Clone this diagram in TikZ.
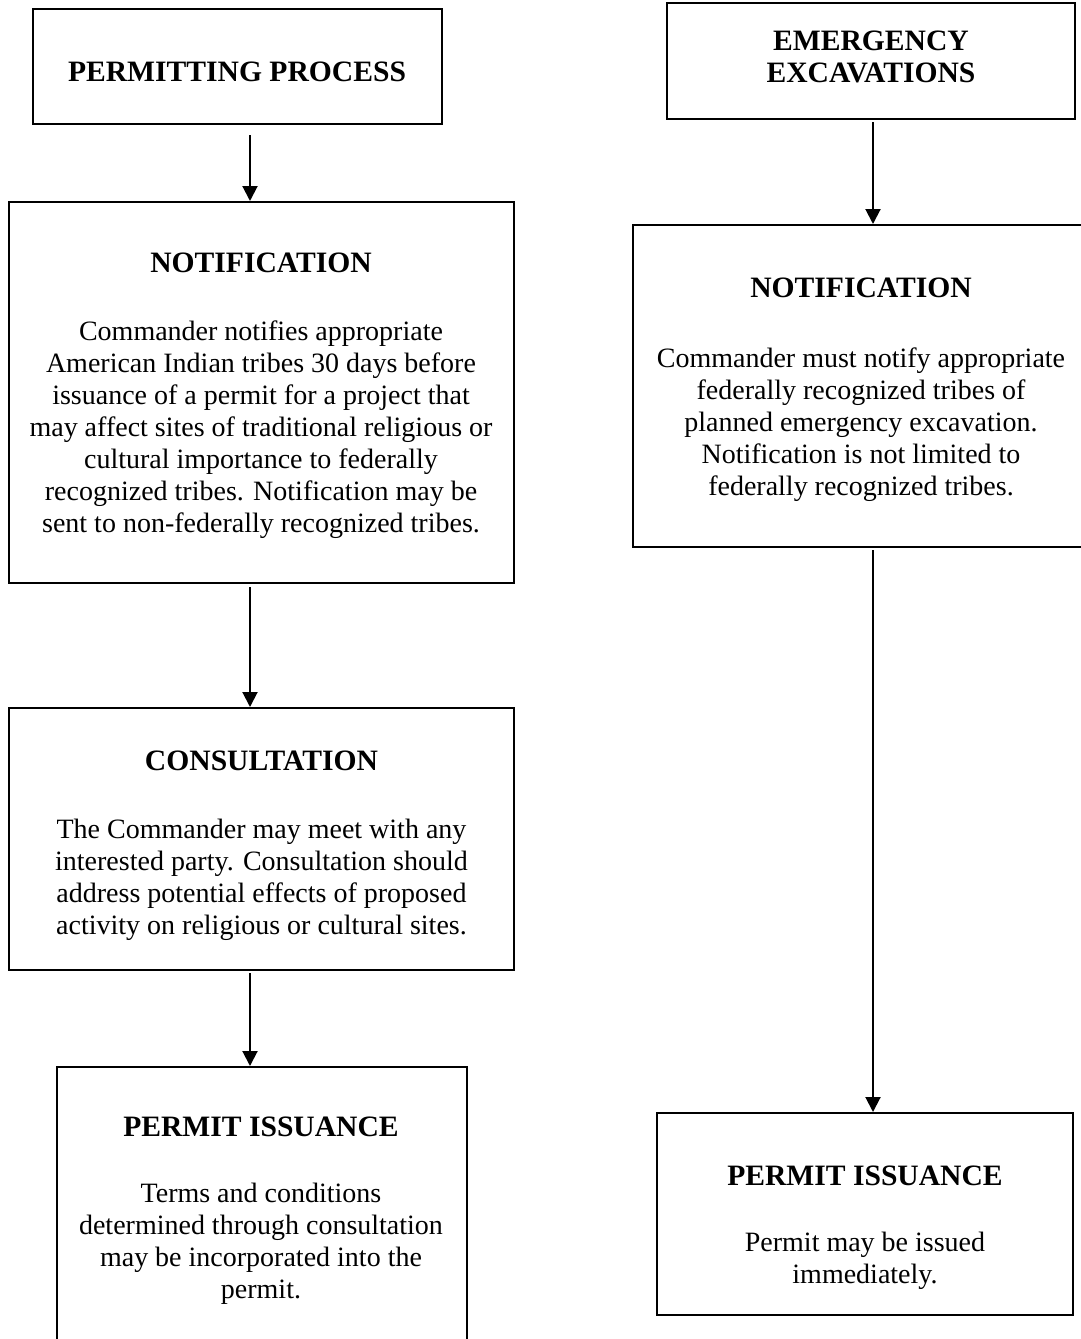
\documentclass[tikz,border=0pt]{standalone}
\usepackage{fontspec}
\setmainfont{Liberation Serif}
\usetikzlibrary{arrows.meta}

\newcommand{\boxhead}[1]{{\fontsize{14.8pt}{16pt}\selectfont\bfseries #1}}

\tikzset{
  box/.style={draw=black, line width=1pt, fill=none, inner sep=0pt},
  boxtext/.style={align=center, inner sep=0pt,
    font=\fontsize{14pt}{16pt}\selectfont},
  flow/.style={draw=black, line width=1pt,
    -{Triangle[length=7.5pt,width=7.5pt]}}
}

\begin{document}
\begin{tikzpicture}[x=0.5pt, y=-0.5pt]
  \useasboundingbox (0,0) rectangle (1081,1339);

  % ---- boxes: left column (permitting process) ----
  \node[box, minimum width=204.5pt, minimum height=57.5pt]  (b1) at (237.5,66.5)  {};
  \node[box, minimum width=252.5pt, minimum height=190.5pt] (b2) at (261.5,392.5) {};
  \node[box, minimum width=252.5pt, minimum height=131pt]   (b3) at (261.5,839)   {};
  \node[box, minimum width=205pt,   minimum height=147.5pt] (b4) at (262,1214.5)  {};

  % ---- boxes: right column (emergency excavations) ----
  \node[box, minimum width=204pt, minimum height=58pt]  (b5) at (871,61)     {};
  \node[box, minimum width=228.5pt, minimum height=161pt] (b6) at (861.5,386) {};
  \node[box, minimum width=208pt, minimum height=101pt] (b7) at (865,1214)   {};

  % ---- box texts ----
  \node[boxtext] (t1) at (237,72) {\boxhead{PERMITTING PROCESS}};
  \node[boxtext] (t2) at (261,396) {\boxhead{NOTIFICATION}\\[18pt]
    Commander notifies appropriate\\
    American Indian tribes 30 days before\\
    issuance of a permit for a project that\\
    may affect sites of traditional religious or\\
    cultural importance to federally\\
    recognized tribes. Notification may be\\
    sent to non-federally recognized tribes.};
  \node[boxtext] (t3) at (261.5,846) {\boxhead{CONSULTATION}\\[18pt]
    The Commander may meet with any\\
    interested party. Consultation should\\
    address potential effects of proposed\\
    activity on religious or cultural sites.};
  \node[boxtext] (t4) at (261,1211) {\boxhead{PERMIT ISSUANCE}\\[17pt]
    Terms and conditions\\
    determined through consultation\\
    may be incorporated into the\\
    permit.};
  \node[boxtext] (t5) at (871,56.5) {\boxhead{EMERGENCY}\\\boxhead{EXCAVATIONS}};
  \node[boxtext] (t6) at (861,389.5) {\boxhead{NOTIFICATION}\\[19pt]
    Commander must notify appropriate\\
    federally recognized tribes of\\
    planned emergency excavation.\\
    Notification is not limited to\\
    federally recognized tribes.};
  \node[boxtext] (t7) at (865,1228) {\boxhead{PERMIT ISSUANCE}\\[17pt]
    Permit may be issued\\
    immediately.};

  % ---- connector columns ----
  \coordinate (axL) at (250,0);
  \coordinate (axR) at (873,0);

  \draw[flow] ([yshift=-5pt]b1.south -| axL) -- (b2.north -| axL);
  \draw[flow] ([yshift=-1.5pt]b2.south -| axL) -- (b3.north -| axL);
  \draw[flow] ([yshift=-1pt]b3.south -| axL) -- (b4.north -| axL);

  \draw[flow] ([yshift=-1pt]b5.south -| axR) -- (b6.north -| axR);
  \draw[flow] ([yshift=-1pt]b6.south -| axR) -- (b7.north -| axR);
\end{tikzpicture}
\end{document}
